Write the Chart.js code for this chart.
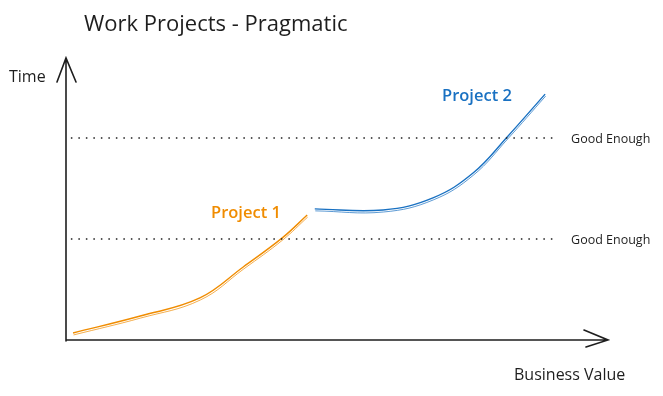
<!DOCTYPE html>
<html>
<head>
<meta charset="utf-8">
<script src="https://cdn.jsdelivr.net/npm/chart.js@4"></script>
<style>
  html, body { margin: 0; padding: 0; background: #fff; }
  #wrap { width: 663px; height: 396px; }
</style>
</head>
<body>
<div id="wrap"><canvas id="sketchChart"></canvas></div>
<script>
// Data (x = business value, y = time, both 0..100)
const project1X = [1.3, 13.7, 24.7, 32.7, 39.9, 44.5];
const project1Y = [2.5, 8.5, 14.9, 25.9, 36.2, 44.3];
const project2X = [45.9, 58.5, 67.7, 75.1, 81.4, 88.4];
const project2Y = [46.5, 46.1, 50.4, 59.2, 72.0, 87.2];
const goodEnoughLevels = [35.8, 71.6];
const goodEnoughSpan = [0.9, 90.6];

const toPoints = (xs, ys) => xs.map((x, i) => ({ x: x, y: ys[i] }));
const INK = "#1e1e1e";
const ORANGE = "#f08c00";
const BLUE = "#1971c2";
const FONT = "'Open Sans', sans-serif";

const guideSets = goodEnoughLevels.map(level => ({
  label: "Good Enough",
  data: goodEnoughSpan.map(x => ({ x: x, y: level })),
  borderColor: INK,
  borderWidth: 1.5,
  borderDash: [1.5, 6],
  pointRadius: 0,
  sketch: false,
}));

// draw axes, arrows, the second "pencil" stroke and the text labels
const sketchPlugin = {
  id: "sketch",
  afterDatasetsDraw(chart) {
    const c = chart.ctx;
    const a = chart.chartArea;
    const xs = chart.scales.x;
    const ys = chart.scales.y;

    // second stroke for the project lines
    chart.data.datasets.forEach((ds, i) => {
      if (!ds.sketch) return;
      const meta = chart.getDatasetMeta(i);
      c.save();
      c.globalAlpha = 0.7;
      c.translate(0.5, 2);
      meta.dataset.options.borderWidth = 1;
      meta.dataset.draw(c);
      meta.dataset.options.borderWidth = ds.borderWidth;
      c.restore();
    });

    c.save();
    c.strokeStyle = INK;
    c.lineWidth = 1.6;
    c.lineCap = "round";
    c.beginPath();
    // y axis + arrow
    c.moveTo(a.left, a.bottom + 1);
    c.lineTo(a.left, a.top);
    c.moveTo(a.left - 9, a.top + 24);
    c.lineTo(a.left, a.top);
    c.lineTo(a.left + 10, a.top + 24);
    // x axis + arrow
    c.moveTo(a.left, a.bottom);
    c.lineTo(a.right, a.bottom);
    c.moveTo(a.right - 24, a.bottom - 10);
    c.lineTo(a.right, a.bottom);
    c.lineTo(a.right - 22, a.bottom + 7);
    c.stroke();

    c.textBaseline = "middle";
    c.fillStyle = INK;
    c.textAlign = "left";
    c.font = "22px " + FONT;
    c.fillText("Work Projects - Pragmatic", 84, 25);

    c.font = "16px " + FONT;
    c.fillText("Time", 9, 77);
    c.fillText("Business Value", 514, 375);

    c.font = "12.5px " + FONT;
    goodEnoughLevels.forEach(level => {
      c.fillText("Good Enough", xs.getPixelForValue(goodEnoughSpan[1]) + 14, ys.getPixelForValue(level) + 1);
    });

    c.font = "600 16.5px " + FONT;
    c.fillStyle = ORANGE;
    c.fillText("Project 1", 211, 213);
    c.fillStyle = BLUE;
    c.fillText("Project 2", 442, 96);
    c.restore();
  },
};

const ctx = document.getElementById("sketchChart").getContext("2d");
const chart = new Chart(ctx, {
  type: "line",
  data: {
    datasets: [
      ...guideSets,
      {
        label: "Project 1",
        data: toPoints(project1X, project1Y),
        borderColor: ORANGE,
        borderWidth: 1.4,
        pointRadius: 0,
        tension: 0.4,
        sketch: true,
      },
      {
        label: "Project 2",
        data: toPoints(project2X, project2Y),
        borderColor: BLUE,
        borderWidth: 1.4,
        pointRadius: 0,
        tension: 0.4,
        sketch: true,
      },
    ],
  },
  options: {
    responsive: true,
    maintainAspectRatio: false,
    animation: false,
    layout: { padding: { left: 66, right: 55, top: 58, bottom: 56 } },
    plugins: { legend: { display: false }, tooltip: { enabled: false } },
    scales: {
      x: { type: "linear", min: 0, max: 100, display: false },
      y: { type: "linear", min: 0, max: 100, display: false },
    },
  },
  plugins: [sketchPlugin],
});
</script>
</body>
</html>
